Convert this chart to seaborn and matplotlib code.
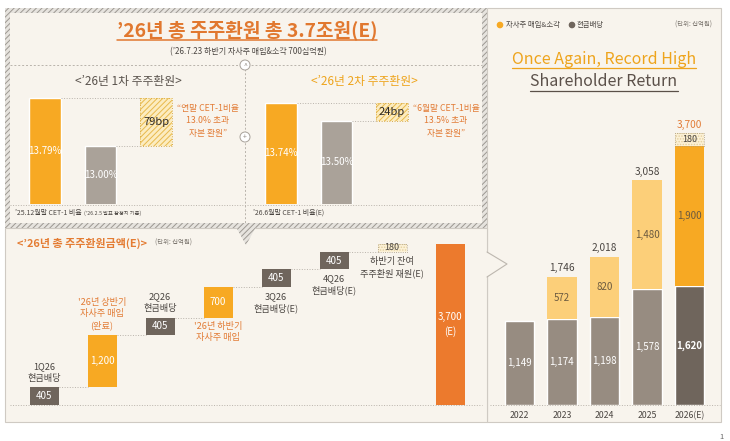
import numpy as np
import pandas as pd
import seaborn as sns
import matplotlib.pyplot as plt
from matplotlib.patches import Rectangle, Circle, Polygon

# 테마 먼저, 폰트는 그 다음에 (set_theme 이 font.family 를 덮어씀)
sns.set_theme(style="white")
plt.rcParams["font.family"] = ["Noto Sans CJK KR", "DejaVu Sans"]
plt.rcParams["hatch.linewidth"] = 0.7

W, H = 730, 441

# ---- 데이터 ----
q1_names = ["'25.12월말", "기준"]
q1_cet1 = [13.79, 13.00]
q1_bp = 79
q2_names = ["'26.6월말(E)", "기준"]
q2_cet1 = [13.74, 13.50]
q2_bp = 24

wf_values = [405, 1200, 405, 700, 405, 405, 180]
wf_kind = ["div", "buy", "div", "buy", "div", "div", "rest"]
wf_notes = ["1Q26\n현금배당", "'26년 상반기\n자사주 매입\n(완료)", "2Q26\n현금배당",
            "'26년 하반기\n자사주 매입", "3Q26\n현금배당(E)", "4Q26\n현금배당(E)",
            "하반기 잔여\n주주환원 재원(E)"]
wf_note_pos = ["above", "above", "above", "below", "below", "below", "below"]
wf_total = 3700

years = ["2022", "2023", "2024", "2025", "2026(E)"]
dividend = [1149, 1174, 1198, 1578, 1620]
buyback = [0, 572, 820, 1480, 1900]
remain = [0, 0, 0, 0, 180]
totals = [1149, 1746, 2018, 3058, 3700]

# ---- 색 ----
CREAM = "#f8f4ed"
ORANGE = "#f7a923"
DEEP = "#ec7a2d"
LIGHT_Y = "#fccf79"
GRAY = "#978c81"
DARK = "#6f655c"
CGRAY = "#aaa299"
TXT = "#4b4642"
ANNO = "#e27b35"
GOLD = "#eea41c"
LINE = "#b9b3ab"


def fig_rect(x0, y0, x1, y1):
    return [x0 / W, 1 - y1 / H, (x1 - x0) / W, (y1 - y0) / H]


fig = plt.figure(figsize=(W / 100, H / 100), dpi=100, facecolor="white")

# 배경용 axes (픽셀 좌표, y 아래로)
bg = fig.add_axes([0, 0, 1, 1], zorder=0)
bg.set_xlim(0, W)
bg.set_ylim(H, 0)
bg.axis("off")

# 오른쪽 패널
bg.add_patch(Rectangle((487, 8), 234, 414, facecolor=CREAM, edgecolor="#cfcac3", lw=0.8))
# 아래 왼쪽 패널
bg.add_patch(Rectangle((5, 228), 482, 194, facecolor=CREAM, edgecolor="#cfcac3", lw=0.8))
# '>' 모양 꺾쇠
bg.add_patch(Polygon([(486, 252), (507, 264), (486, 277)], closed=True, facecolor=CREAM, edgecolor="none"))
bg.plot([487, 507, 487], [252, 264, 277], color="#bdb7af", lw=0.8)

# 위쪽 빗금 테두리 패널
bg.add_patch(Rectangle((5, 8), 482, 220, facecolor="#e6e3de", edgecolor="#9c9892", hatch="//////", lw=0))
bg.add_patch(Rectangle((10, 13), 472, 210, facecolor=CREAM, edgecolor="none"))
bg.add_patch(Polygon([(236, 227), (256, 227), (246, 245)], closed=True,
                     facecolor="#e6e3de", edgecolor="#9c9892", hatch="//////", lw=0))

# 점선 구분선 + 동그라미
bg.plot([10, 482], [65, 65], color=LINE, lw=0.7, ls=(0, (2, 2)))
bg.plot([245, 245], [65, 223], color=LINE, lw=0.7, ls=(0, (2, 2)))
for cy, sym in [(65, "^"), (137, "+")]:
    bg.add_patch(Circle((245, cy), 5, facecolor="white", edgecolor="#a8a29a", lw=0.7, zorder=3))
    bg.text(245, cy + 0.5, sym, ha="center", va="center", fontsize=5, color="#8d877f", zorder=4)

# 타이틀
t_main = bg.text(247, 30, "’26년 총 주주환원 총 3.7조원(E)", ha="center", va="center",
                 fontsize=13.8, fontweight="bold", color="#e1782f")
bg.text(248, 52, "(’26.7.23 하반기 자사주 매입&소각 700십억원)", ha="center", va="center",
        fontsize=5.8, color=TXT)
bg.text(128, 81, "<’26년 1차 주주환원>", ha="center", va="center", fontsize=8.5, color="#5a534d")
bg.text(364, 81, "<’26년 2차 주주환원>", ha="center", va="center", fontsize=8.5, color=GOLD)

bg.plot([10, 482], [205, 205], color=LINE, lw=0.7, ls=":")
t_base1 = bg.text(15, 213, "’25.12월말 CET-1 비율", ha="left", va="center", fontsize=5, color=TXT)
bg.text(253, 213, "’26.6월말 CET-1 비율(E)", ha="left", va="center", fontsize=5, color=TXT)

bg.text(208, 121, "“연말 CET-1비율\n13.0% 초과\n자본 환원”", ha="center", va="center",
        fontsize=6.3, color=ANNO, linespacing=1.55)
bg.text(446, 121, "“6월말 CET-1비율\n13.5% 초과\n자본 환원”", ha="center", va="center",
        fontsize=6.3, color=ANNO, linespacing=1.55)

# 아래 패널 타이틀
t_wf = bg.text(17, 243, "<’26년 총 주주환원금액(E)>", ha="left", va="center", fontsize=7.9,
               fontweight="bold", color="#e47c33")
bg.plot([10, 482], [405, 405], color=LINE, lw=0.7, ls=":")

# 오른쪽 패널 텍스트
bg.add_patch(Circle((500, 25), 2.6, color=ORANGE))
bg.text(506, 25, "자사주 매입&소각", ha="left", va="center", fontsize=5.3, color=TXT)
bg.add_patch(Circle((572, 25), 2.6, color=DARK))
bg.text(577, 25, "현금배당", ha="left", va="center", fontsize=5.3, color=TXT)
bg.text(712, 25, "(단위: 십억원)", ha="right", va="center", fontsize=4.6, color="#7d7770")
t_once = bg.text(604, 59, "Once Again, Record High", ha="center", va="center",
                 fontsize=11.5, color=GOLD)
t_share = bg.text(604, 82, "Shareholder Return", ha="center", va="center",
                  fontsize=11.5, color="#5b5049")
bg.plot([490, 720], [405, 405], color=LINE, lw=0.7, ls=":")
bg.text(722, 437, "1", ha="center", va="center", fontsize=5.5, color="#666")


# ---- CET-1 막대 (1차, 2차) ----
def cet1_panel(rect, names, vals, bp, y_bottom, px_per_pct):
    ax = fig.add_axes(fig_rect(*rect), zorder=2)
    ax.patch.set_alpha(0)
    sns.barplot(x=names, y=vals, hue=names, palette=[ORANGE, CGRAY], width=0.57,
                saturation=1, legend=False, ax=ax)
    h_px = rect[3] - rect[1]
    ax.set_xlim(-0.5, 2.5)
    ax.set_ylim(y_bottom, y_bottom + h_px / px_per_pct)
    ax.axis("off")
    w = 0.57
    ax.bar(2, bp / 100, bottom=vals[1], width=w, color="#fcecc0", edgecolor="#e8b94c",
           hatch="//////", lw=0)
    ax.bar(2, bp / 100, bottom=vals[1], width=w, fill=False, edgecolor="#d9ab45",
           lw=0.7, ls=":")
    ax.plot([w / 2, 2 - w / 2], [vals[0], vals[0]], color=LINE, lw=0.7, ls=":")
    ax.plot([1 + w / 2, 2 - w / 2], [vals[1], vals[1]], color=LINE, lw=0.7, ls=":")
    for i, v in enumerate(vals):
        ax.text(i, (y_bottom + v) / 2, f"{v:.2f}%", ha="center", va="center",
                fontsize=7, color="white")
    ax.text(2, vals[1] + bp / 200, f"{bp}bp", ha="center", va="center",
            fontsize=8, color="#2e2a26")
    return ax


cet1_panel((17, 90, 184, 204), q1_names, q1_cet1, q1_bp, 12.045, 60.8)
cet1_panel((253, 90, 420, 204), q2_names, q2_cet1, q2_bp, 12.393, 75.0)

# ---- 워터폴 ----
ax_w = fig.add_axes(fig_rect(15, 230, 479, 405), zorder=2)
ax_w.patch.set_alpha(0)
bw = 0.5
bottoms = np.concatenate([[0], np.cumsum(wf_values)[:-1]])
tops = np.cumsum(wf_values)
kind_color = {"div": DARK, "buy": ORANGE}
for i, (v, b, k) in enumerate(zip(wf_values, bottoms, wf_kind)):
    if k == "rest":
        ax_w.bar(i, v, bottom=b, width=bw, color="#fcf1d6", edgecolor="#e3cf9f",
                 hatch="......", lw=0)
        ax_w.bar(i, v, bottom=b, width=bw, fill=False, edgecolor="#a89a80", lw=0.6, ls=":")
        ax_w.text(i, b + v / 2, f"{v:,}", ha="center", va="center", fontsize=6.5, color=TXT)
    else:
        ax_w.bar(i, v, bottom=b, width=bw, color=kind_color[k], lw=0)
        ax_w.text(i, b + v / 2, f"{v:,}", ha="center", va="center", fontsize=7,
                  color="white")
n = len(wf_values)
ax_w.bar(n, wf_total, width=bw, color=DEEP, lw=0)
ax_w.text(n, wf_total / 2, f"{wf_total:,}\n(E)", ha="center", va="center", fontsize=7,
          color="white", linespacing=1.4)
for i in range(n - 1):
    ax_w.plot([i + bw / 2, i + 1 - bw / 2], [tops[i], tops[i]], color=LINE, lw=0.7, ls=":")
for i, (note, pos) in enumerate(zip(wf_notes, wf_note_pos)):
    col = ANNO if wf_kind[i] == "buy" else TXT
    if pos == "above":
        ax_w.annotate(note, (i, tops[i]), xytext=(0, 3.5), textcoords="offset points",
                      ha="center", va="bottom", fontsize=6.6, color=col, linespacing=1.3)
    else:
        ax_w.annotate(note, (i, bottoms[i]), xytext=(0, -3.5), textcoords="offset points",
                      ha="center", va="top", fontsize=6.6, color=col, linespacing=1.3)
ax_w.set_xlim(-0.5, n + 0.5)
ax_w.set_ylim(0, 4020)
ax_w.axis("off")

# ---- 연도별 주주환원 누적 막대 ----
ax_r = fig.add_axes(fig_rect(498, 120, 711, 405), zorder=2)
ax_r.patch.set_alpha(0)
rw = 0.69
sns.barplot(x=years, y=dividend, hue=years, palette=[GRAY] * 4 + [DARK], width=rw,
            saturation=1, legend=False, ax=ax_r)
ax_r.bar(range(len(years)), buyback, bottom=dividend, width=rw,
         color=[LIGHT_Y] * 4 + [ORANGE], lw=0)
top_b = np.array(dividend) + np.array(buyback)
ax_r.bar(range(len(years)), remain, bottom=top_b, width=rw, color="#fcf1d6",
         edgecolor="#e3cf9f", hatch="......", lw=0)
for i, r in enumerate(remain):
    if r:
        ax_r.bar(i, r, bottom=top_b[i], width=rw, fill=False, edgecolor="#a89a80",
                 lw=0.6, ls=":")
        ax_r.text(i, top_b[i] + r / 2, f"{r:,}", ha="center", va="center", fontsize=6.5,
                  color=TXT)
for i, (d, b, t) in enumerate(zip(dividend, buyback, totals)):
    ax_r.text(i, d / 2, f"{d:,}", ha="center", va="center", fontsize=7, color="white",
              fontweight="bold" if i == len(years) - 1 else "normal")
    if b:
        ax_r.text(i, d + b / 2, f"{b:,}", ha="center", va="center", fontsize=7,
                  color="#6b5a40")
    if i > 0:
        ax_r.annotate(f"{t:,}", (i, t), xytext=(0, 2.5), textcoords="offset points",
                      ha="center", va="bottom", fontsize=7.3,
                      color=ANNO if i == len(years) - 1 else TXT)
    ax_r.annotate(years[i], (i, 0), xytext=(0, -7.5), textcoords="offset points",
                  ha="center", va="center", fontsize=6.3, color=TXT)
ax_r.set_xlim(-0.5, len(years) - 0.5)
ax_r.set_ylim(0, 3877)
ax_r.axis("off")

# 밑줄 + 제목 뒤에 붙는 작은 글씨 (글자 폭을 재서 위치 결정)
fig.canvas.draw()
for t, col, lw in [(t_main, "#e1782f", 1.1), (t_once, GOLD, 0.9), (t_share, "#5b5049", 0.9)]:
    bb = t.get_window_extent()
    y = H - bb.y0 + 0.5
    bg.plot([bb.x0, bb.x1], [y, y], color=col, lw=lw)

bb = t_base1.get_window_extent()
bg.text(bb.x1 + 2, 213.5, "(’26.2.5 발표 잠정치 기준)", ha="left", va="center",
        fontsize=3.8, color=TXT)
bb = t_wf.get_window_extent()
bg.text(bb.x1 + 8, 243, "(단위: 십억원)", ha="left", va="center", fontsize=4.6,
        color="#7d7770")

fig.savefig("out.png", dpi=100, facecolor="white")
